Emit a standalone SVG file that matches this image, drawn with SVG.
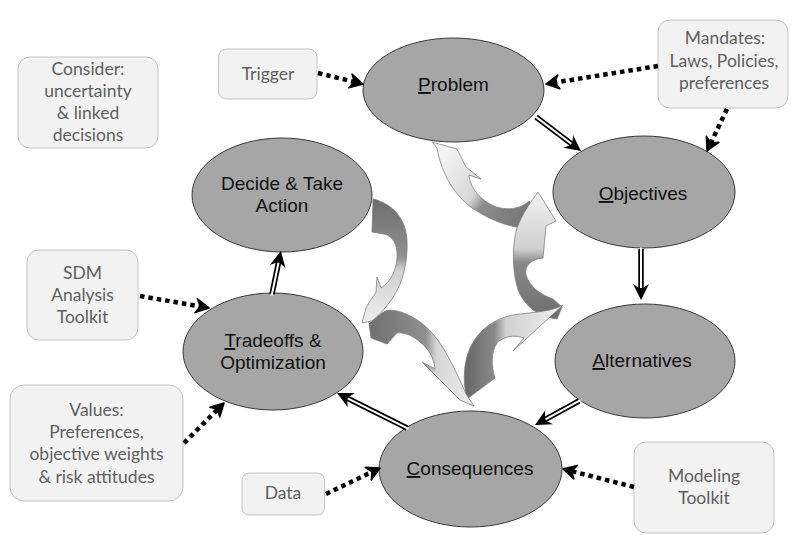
<svg xmlns="http://www.w3.org/2000/svg" width="809" height="552" viewBox="0 0 809 552">
<style>
.node ellipse{fill:#a6a6a6;stroke:#3a3a3a;stroke-width:1}
.ntext{font-family:"Liberation Sans",Arial,sans-serif;font-size:19px;fill:#111;text-anchor:middle}
.box rect{fill:#f2f2f2;stroke:#c4c4c4;stroke-width:1}
.btext{font-family:Lato,"Liberation Sans",sans-serif;font-size:17.5px;fill:#5f5f5f;text-anchor:middle}
.u{text-decoration:underline}
.dot{fill:none;stroke:#000;stroke-width:4.5;stroke-dasharray:4.5 4}
.dbl-b{fill:none;stroke:#000;stroke-width:5.5}
.dbl-w{fill:none;stroke:#fff;stroke-width:2}
.curve{stroke:#808080;stroke-width:0.8}
</style>
<defs>
<marker id="headBig" markerUnits="userSpaceOnUse" markerWidth="20" markerHeight="20" viewBox="0 0 20 20" refX="12" refY="10" orient="auto">
<path d="M2,2 L18,10 L2,18 L7,10 Z" fill="#000"/>
</marker>
<marker id="headDot" markerUnits="userSpaceOnUse" markerWidth="20" markerHeight="20" viewBox="0 0 20 20" refX="11" refY="10" orient="auto">
<path d="M3,3 L16,10 L3,17 L7,10 Z" fill="#000" stroke="#000" stroke-width="1.5" stroke-linejoin="round"/>
</marker>
<linearGradient id="gA" gradientUnits="userSpaceOnUse" x1="445" y1="160" x2="530" y2="218">
<stop offset="0" stop-color="#f2f2f2"/><stop offset="0.42" stop-color="#d6d6d6"/><stop offset="0.55" stop-color="#8c8c8c"/><stop offset="1" stop-color="#747474"/>
</linearGradient>
<linearGradient id="gB" gradientUnits="userSpaceOnUse" x1="0" y1="195" x2="0" y2="315">
<stop offset="0" stop-color="#f0f0f0"/><stop offset="0.45" stop-color="#cfcfcf"/><stop offset="0.56" stop-color="#8a8a8a"/><stop offset="1" stop-color="#6e6e6e"/>
</linearGradient>
<linearGradient id="gC" gradientUnits="userSpaceOnUse" x1="563" y1="0" x2="468" y2="0">
<stop offset="0" stop-color="#f0f0f0"/><stop offset="0.6" stop-color="#d0d0d0"/><stop offset="0.72" stop-color="#8a8a8a"/><stop offset="1" stop-color="#6a6a6a"/>
</linearGradient>
<linearGradient id="gD" gradientUnits="userSpaceOnUse" x1="0" y1="200" x2="0" y2="325">
<stop offset="0" stop-color="#6e6e6e"/><stop offset="0.45" stop-color="#8f8f8f"/><stop offset="0.56" stop-color="#d0d0d0"/><stop offset="1" stop-color="#f0f0f0"/>
</linearGradient>
<linearGradient id="gE" gradientUnits="userSpaceOnUse" x1="365" y1="0" x2="475" y2="0">
<stop offset="0" stop-color="#6e6e6e"/><stop offset="0.55" stop-color="#8f8f8f"/><stop offset="0.65" stop-color="#d5d5d5"/><stop offset="1" stop-color="#f0f0f0"/>
</linearGradient>
</defs>
<rect width="809" height="552" fill="#fff"/>

<g id="cycle-arrows">
<path class="curve" fill="url(#gA)" d="M432,142 L457,149 L466,167 L481,179 L469,175 C470,188 480,200 496,207 C510,211 522,208 529,201 L539,212 C533,220 528,224 522,228 C505,226 487,218 472,208 C455,195 442,176 437,148 Z"/>
<path class="curve" fill="url(#gB)" d="M538,192 L556,221 L546,226 L543,258 C532,259 524,265 526,275 C530,288 542,295 553,299 L562,307 L557,319 C539,317 525,307 518,290 C512,270 512,245 517,228 C523,212 531,202 538,192 Z"/>
<path class="curve" fill="url(#gC)" d="M563,305 L513,351 L524,338 C513,334 503,337 497,343 C491,352 491,365 495,378 L467,399 C462,380 464,360 471,346 C480,328 498,316 520,314 C538,312 552,311 563,305 Z"/>
<path class="curve" fill="url(#gD)" d="M373,199 C394,204 406,220 407,240 C408,262 403,283 392,299 C384,310 378,316 372,321 L362,323 L366,308 C370,300 374,296 376,292 L377,277 L381,288 C390,282 396,272 397,258 C398,245 393,236 384,234 L372,232 Z"/>
<path class="curve" fill="url(#gE)" d="M369,324 C378,316 384,310 390,310 C406,311 422,321 434,335 C446,350 457,373 466,394 L474,406 L460,400 L422,362 L435,369 C434,358 428,348 420,342 C412,335 403,332 397,333 L387,344 L371,338 Z"/>
</g>

<g id="problem" class="node"><ellipse cx="453.5" cy="90" rx="90.5" ry="52"/><text class="ntext" x="453.5" y="91"><tspan class="u">P</tspan>roblem</text></g>
<g id="objectives" class="node"><ellipse cx="644" cy="192" rx="91" ry="56"/><text class="ntext" x="643" y="200"><tspan class="u">O</tspan>bjectives</text></g>
<g id="alternatives" class="node"><ellipse cx="645" cy="361" rx="90" ry="57"/><text class="ntext" x="642" y="367"><tspan class="u">A</tspan>lternatives</text></g>
<g id="consequences" class="node"><ellipse cx="470.5" cy="469" rx="91.5" ry="58"/><text class="ntext" x="470" y="475"><tspan class="u">C</tspan>onsequences</text></g>
<g id="tradeoffs" class="node"><ellipse cx="273" cy="351.5" rx="90" ry="58.5"/><text class="ntext" x="273" y="347"><tspan class="u">T</tspan>radeoffs &amp;</text><text class="ntext" x="273" y="369">Optimization</text></g>
<g id="decide" class="node"><ellipse cx="282" cy="195" rx="90" ry="57"/><text class="ntext" x="282" y="190">Decide &amp; Take</text><text class="ntext" x="282" y="212">Action</text></g>

<g id="consider" class="box"><rect x="18" y="57" width="140" height="91" rx="12"/><text class="btext" x="88" y="75">Consider:</text><text class="btext" x="88" y="97">uncertainty</text><text class="btext" x="88" y="119">&amp; linked</text><text class="btext" x="88" y="141">decisions</text></g>
<g id="trigger" class="box"><rect x="218.5" y="49" width="98.5" height="50" rx="8"/><text class="btext" x="268" y="80">Trigger</text></g>
<g id="mandates" class="box"><rect x="658" y="20" width="130" height="88" rx="12"/><text class="btext" x="725" y="44">Mandates:</text><text class="btext" x="724" y="67">Laws, Policies,</text><text class="btext" x="724" y="89">preferences</text></g>
<g id="sdm" class="box"><rect x="27" y="250" width="111" height="90" rx="12"/><text class="btext" x="82.5" y="279">SDM</text><text class="btext" x="82.5" y="301">Analysis</text><text class="btext" x="82.5" y="323">Toolkit</text></g>
<g id="values" class="box"><rect x="10" y="385" width="173" height="116" rx="14"/><text class="btext" x="96.5" y="416">Values:</text><text class="btext" x="96.5" y="438">Preferences,</text><text class="btext" x="96.5" y="460">objective weights</text><text class="btext" x="96.5" y="483">&amp; risk attitudes</text></g>
<g id="data" class="box"><rect x="242" y="473" width="82.5" height="42" rx="7"/><text class="btext" x="283" y="499">Data</text></g>
<g id="modeling" class="box"><rect x="634" y="442" width="140" height="91" rx="12"/><text class="btext" x="704" y="482">Modeling</text><text class="btext" x="704" y="504">Toolkit</text></g>

<g id="connectors">
<line class="dbl-b" x1="536" y1="117" x2="576.2" y2="147.4" marker-end="url(#headBig)"/>
<line class="dbl-w" x1="534.5" y1="115.9" x2="571.4" y2="143.8"/>
<line class="dbl-b" x1="641" y1="249" x2="641" y2="294" marker-end="url(#headBig)"/>
<line class="dbl-w" x1="641" y1="247.5" x2="641" y2="288"/>
<line class="dbl-b" x1="579" y1="401" x2="540.3" y2="422.1" marker-end="url(#headBig)"/>
<line class="dbl-w" x1="580.5" y1="400.2" x2="545.5" y2="419.3"/>
<line class="dbl-b" x1="407" y1="428" x2="342.4" y2="395.7" marker-end="url(#headBig)"/>
<line class="dbl-w" x1="408.5" y1="428.8" x2="347.7" y2="398.4"/>
<line class="dbl-b" x1="272" y1="294" x2="279.7" y2="256.9" marker-end="url(#headBig)"/>
<line class="dbl-w" x1="271.7" y1="295.5" x2="278.5" y2="262.7"/>

<line class="dot" x1="318" y1="73" x2="358.1" y2="82.8" marker-end="url(#headDot)"/>
<line class="dot" x1="658" y1="66" x2="550.9" y2="83.2" marker-end="url(#headDot)"/>
<line class="dot" x1="727" y1="109" x2="709.2" y2="146.5" marker-end="url(#headDot)"/>
<line class="dot" x1="140" y1="296" x2="204.1" y2="307.1" marker-end="url(#headDot)"/>
<line class="dot" x1="184" y1="443" x2="220.5" y2="406.5" marker-end="url(#headDot)"/>
<line class="dot" x1="326" y1="494" x2="375.5" y2="470.2" marker-end="url(#headDot)"/>
<line class="dot" x1="634" y1="487" x2="567.8" y2="470.2" marker-end="url(#headDot)"/>
</g>
</svg>
